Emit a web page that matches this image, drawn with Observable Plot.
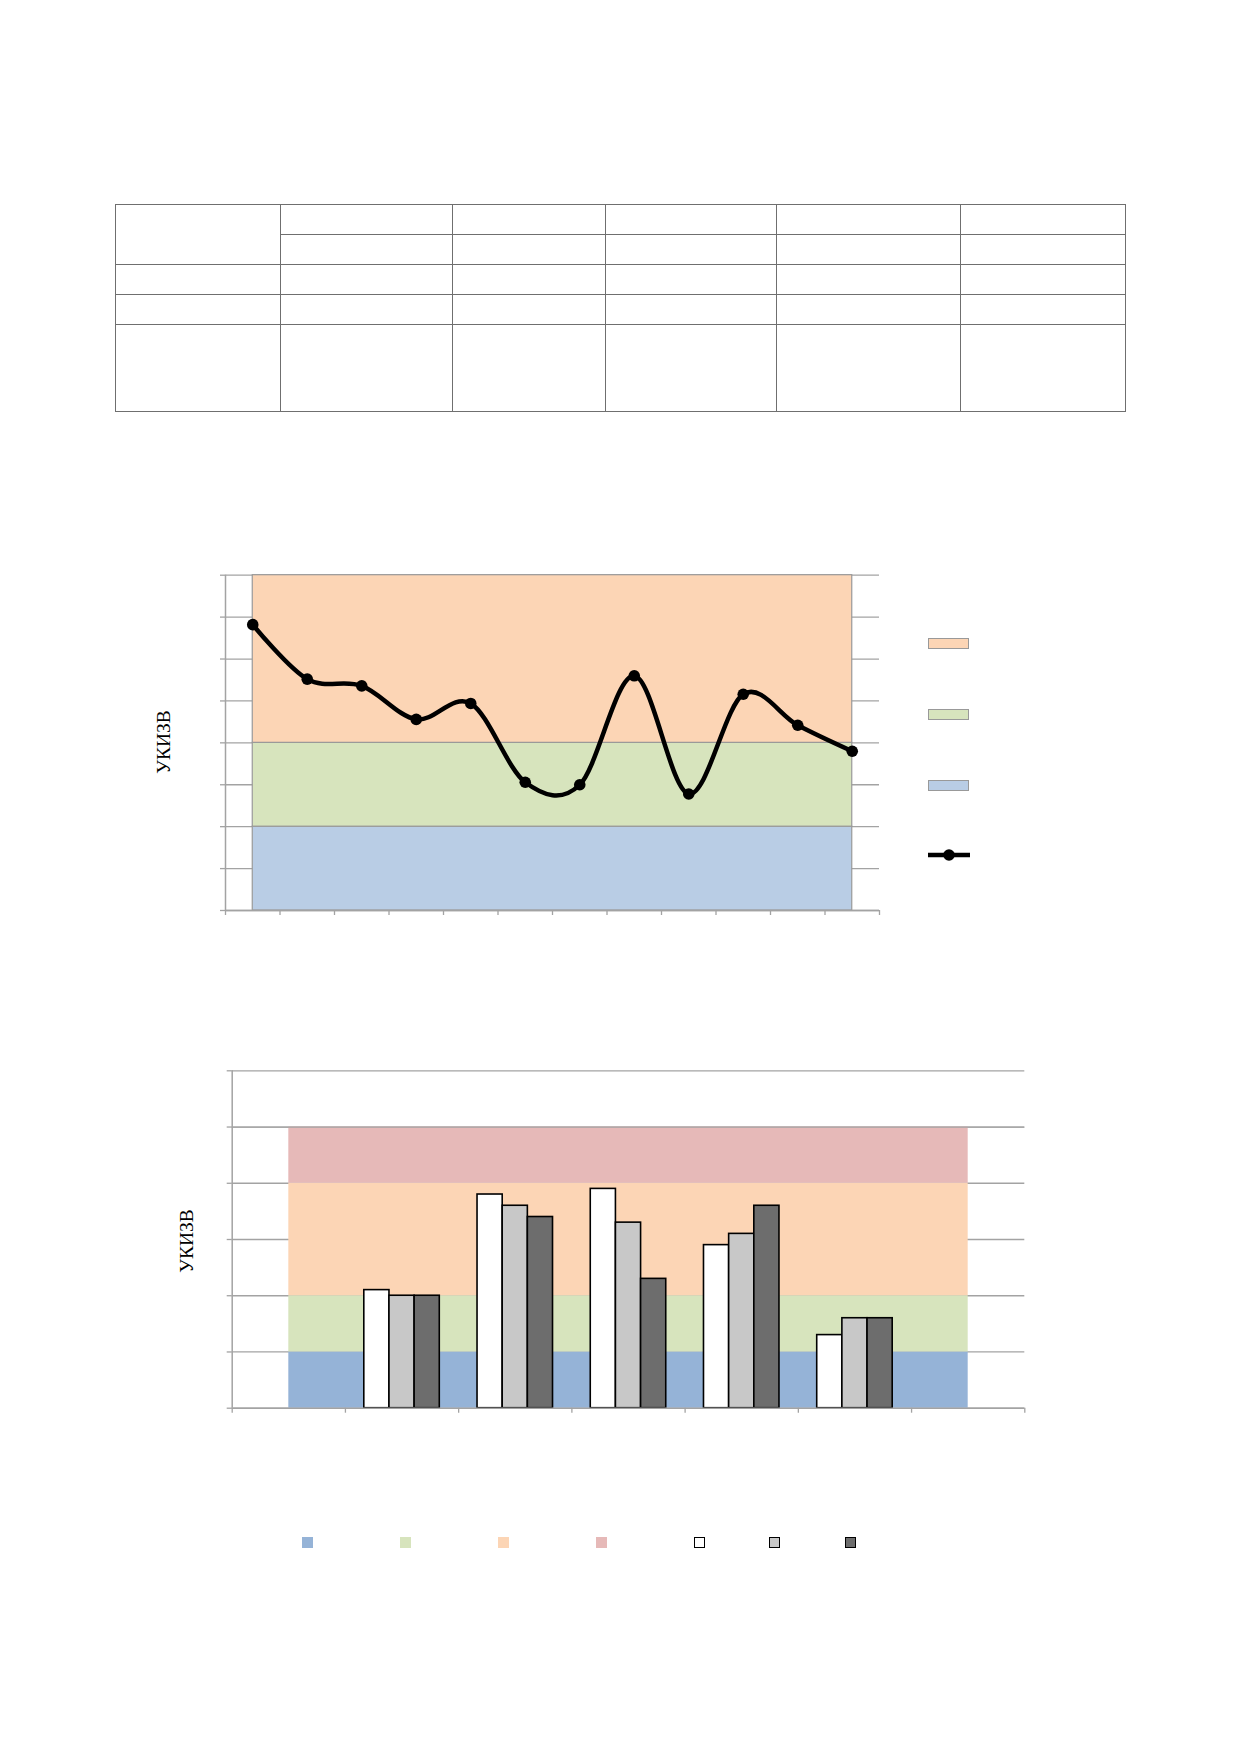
<!DOCTYPE html>
<html>
<head>
<meta charset="utf-8">
<script src="https://cdn.jsdelivr.net/npm/d3@7"></script>
<script src="https://cdn.jsdelivr.net/npm/@observablehq/plot@0.6"></script>
<style>
  html, body { margin: 0; padding: 0; background: #fff; }
  #page { position: relative; width: 1240px; height: 1754px; background: #fff; overflow: hidden; font-family: "Liberation Serif", "DejaVu Serif", serif; }
  .abs { position: absolute; }
  table.grid { position: absolute; left: 115px; top: 204px; border-collapse: collapse; table-layout: fixed; }
  table.grid td { border: 1.5px solid #6f6f6f; padding: 0; }
  .ylab { position: absolute; font-family: "Liberation Serif", serif; font-size: 19.5px; color: #000; transform: translate(-50%, -50%) rotate(-90deg); white-space: nowrap; }
  .sw { position: absolute; box-sizing: border-box; }
</style>
</head>
<body>
<div id="page">
  <table class="grid">
    <colgroup>
      <col style="width:165px"><col style="width:172px"><col style="width:153px"><col style="width:171px"><col style="width:184px"><col style="width:165px">
    </colgroup>
    <tr style="height:30px"><td rowspan="2"></td><td></td><td></td><td></td><td></td><td></td></tr>
    <tr style="height:30px"><td></td><td></td><td></td><td></td><td></td></tr>
    <tr style="height:30px"><td></td><td></td><td></td><td></td><td></td><td></td></tr>
    <tr style="height:30px"><td></td><td></td><td></td><td></td><td></td><td></td></tr>
    <tr style="height:87px"><td></td><td></td><td></td><td></td><td></td><td></td></tr>
  </table>

  <div id="line" class="abs" style="left:0; top:540px;"></div>
  <div class="ylab" style="left:164px; top:742px;">УКИЗВ</div>
  <div id="lineLegend"></div>

  <div id="bar" class="abs" style="left:0; top:1040px;"></div>
  <div class="ylab" style="left:187px; top:1241px;">УКИЗВ</div>
  <div id="barLegend"></div>
</div>
<script>
// ---------- data ----------
// Line chart: 12 sampling points (labels not legible in the source)
const lineValues = [3.41, 2.76, 2.68, 2.28, 2.47, 1.53, 1.50, 2.80, 1.39, 2.58, 2.21, 1.90];
const lineYTicks = [0, 0.5, 1, 1.5, 2, 2.5, 3, 3.5, 4];
const lineBandLow  = [0, 1, 2];
const lineBandHigh = [1, 2, 4];
const lineBandColors = ["#b9cde5", "#d7e4bd", "#fcd5b5"];

// Bar chart: 7 category slots, bars in slots 1..5, three series
const barSlots = 7;
const barGroupSlots = [1, 2, 3, 4, 5];
const barSeries1 = [2.1, 3.8, 3.9, 2.9, 1.3];
const barSeries2 = [2.0, 3.6, 3.3, 3.1, 1.6];
const barSeries3 = [2.0, 3.4, 2.3, 3.6, 1.6];
const barSeriesColors = ["#ffffff", "#c8c8c8", "#6d6d6d"];
const barYTicks = [0, 1, 2, 3, 4, 5, 6];
const barBandLow  = [0, 1, 2, 4];
const barBandHigh = [1, 2, 4, 5];
const barBandColors = ["#95b3d7", "#d7e4bd", "#fcd5b5", "#e6b9b8"];

const GRID = "#a3a3a3";

// ---------- line chart ----------
const nLine = lineValues.length;
const lineData = lineValues.map((v, i) => ({x: i + 0.5, v}));
const lineBands = lineBandLow.map((lo, i) => ({y1: lo, y2: lineBandHigh[i], fill: lineBandColors[i], x1: 0.5, x2: nLine - 0.5}));

const lineChart = Plot.plot({
  width: 1240,
  height: 400,
  marginLeft: 225,
  marginRight: 1240 - 879,
  marginTop: 34.7,
  marginBottom: 400 - 370,
  x: {domain: [0, nLine], axis: null},
  y: {domain: [0, 4], axis: null},
  color: {type: "identity"},
  marks: [
    Plot.ruleY(lineYTicks, {x1: 0, x2: nLine, stroke: GRID, strokeWidth: 1.3}),
    Plot.axisY({ticks: lineYTicks, tickSize: 5, tickFormat: () => "", stroke: GRID, strokeWidth: 1.3, label: null}),
    Plot.rect(lineBands, {x1: "x1", x2: "x2", y1: "y1", y2: "y2", fill: "fill", stroke: "#999999", strokeWidth: 1.2}),
    Plot.ruleX([0], {y1: 0, y2: 4, stroke: GRID, strokeWidth: 1.5}),
    Plot.ruleY([0], {x1: 0, x2: nLine, stroke: GRID, strokeWidth: 1.5}),
    Plot.axisX({ticks: d3.range(nLine + 1), tickSize: 5, tickFormat: () => "", stroke: GRID, strokeWidth: 1.3, label: null}),
    Plot.line(lineData, {x: "x", y: "v", curve: "cardinal", tension: 0, stroke: "#000", strokeWidth: 4.5}),
    Plot.dot(lineData, {x: "x", y: "v", r: 5.8, fill: "#000", stroke: "none"})
  ]
});
document.getElementById("line").appendChild(lineChart);

// line legend
(function () {
  const host = document.getElementById("lineLegend");
  const tops = [638, 709, 780];
  const order = [2, 1, 0];
  order.forEach((bi, k) => {
    const d = document.createElement("div");
    d.className = "sw";
    d.style.cssText = `left:928px; top:${tops[k]}px; width:41px; height:11px; background:${lineBandColors[bi]}; border:1.2px solid #999;`;
    host.appendChild(d);
  });
  const ns = "http://www.w3.org/2000/svg";
  const s = document.createElementNS(ns, "svg");
  s.setAttribute("width", 44); s.setAttribute("height", 20);
  s.style.cssText = "position:absolute; left:927px; top:845px;";
  const l = document.createElementNS(ns, "line");
  l.setAttribute("x1", 1); l.setAttribute("x2", 43); l.setAttribute("y1", 10); l.setAttribute("y2", 10);
  l.setAttribute("stroke", "#000"); l.setAttribute("stroke-width", 4.5);
  const c = document.createElementNS(ns, "circle");
  c.setAttribute("cx", 22); c.setAttribute("cy", 10); c.setAttribute("r", 5.8); c.setAttribute("fill", "#000");
  s.appendChild(l); s.appendChild(c);
  host.appendChild(s);
})();

// ---------- bar chart ----------
const nSeries = 3;
const bw = 1 / (nSeries + 1.5);   // Excel gap width 150%
const allSeries = [barSeries1, barSeries2, barSeries3];
const barData = [];
barGroupSlots.forEach((slot, g) => {
  allSeries.forEach((ser, s) => {
    const x1 = slot + 0.5 + (s - nSeries / 2) * bw;
    barData.push({x1, x2: x1 + bw, v: ser[g], fill: barSeriesColors[s]});
  });
});
const barBands = barBandLow.map((lo, i) => ({y1: lo, y2: barBandHigh[i], fill: barBandColors[i], x1: 0.5, x2: barSlots - 0.5}));

const barChart = Plot.plot({
  width: 1240,
  height: 400,
  marginLeft: 231.7,
  marginRight: 1240 - 1024.3,
  marginTop: 30.3,
  marginBottom: 400 - 30.3 - 337.4,
  x: {domain: [0, barSlots], axis: null},
  y: {domain: [0, 6], axis: null},
  color: {type: "identity"},
  marks: [
    Plot.ruleY(barYTicks, {x1: 0, x2: barSlots, stroke: GRID, strokeWidth: 1.3}),
    Plot.axisY({ticks: barYTicks, tickSize: 5, tickFormat: () => "", stroke: GRID, strokeWidth: 1.3, label: null}),
    Plot.rect(barBands, {x1: "x1", x2: "x2", y1: "y1", y2: "y2", fill: "fill"}),
    Plot.ruleY([barBandHigh[barBandHigh.length - 1]], {x1: 0, x2: barSlots, stroke: GRID, strokeWidth: 1.3}),
    Plot.rect(barData, {x1: "x1", x2: "x2", y1: 0, y2: "v", fill: "fill", stroke: "#000", strokeWidth: 1.6}),
    Plot.ruleX([0], {y1: 0, y2: 6, stroke: GRID, strokeWidth: 1.5}),
    Plot.ruleY([0], {x1: 0, x2: barSlots, stroke: GRID, strokeWidth: 1.5}),
    Plot.axisX({ticks: d3.range(barSlots + 1), tickSize: 5, tickFormat: () => "", stroke: GRID, strokeWidth: 1.3, label: null})
  ]
});
document.getElementById("bar").appendChild(barChart);

// bar legend
(function () {
  const host = document.getElementById("barLegend");
  const centers = [307, 405, 503, 601, 699, 774, 850];
  const fills = barBandColors.concat(barSeriesColors);
  fills.forEach((f, i) => {
    const d = document.createElement("div");
    d.className = "sw";
    const bordered = i >= barBandColors.length;
    d.style.cssText = `left:${centers[i] - 5.5}px; top:1537px; width:11px; height:11px; background:${f};` + (bordered ? "border:1.6px solid #000;" : "");
    host.appendChild(d);
  });
})();
</script>
</body>
</html>
